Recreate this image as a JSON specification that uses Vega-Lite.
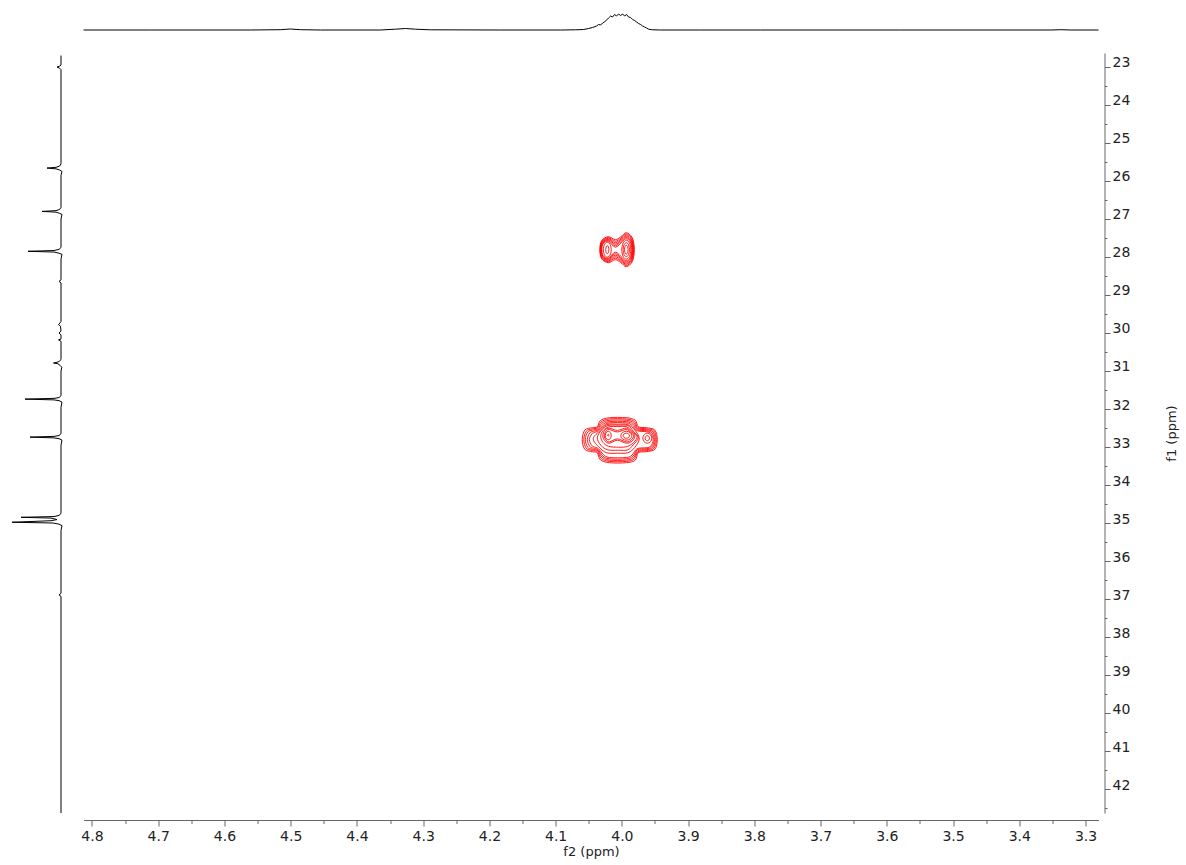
{
"$schema": "https://vega.github.io/schema/vega-lite/v6.json",
"background": "white",
"padding": 5,
"config": {"view": {"stroke": null}, "font": "DejaVu Sans"},
"datasets": {
"top": [
{"f2":4.8128,"v":0},{"f2":4.7119,"v":0},{"f2":4.5609,"v":0},{"f2":4.5156,"v":0.3},{"f2":4.5005,"v":1},{"f2":4.4853,"v":0.3},{"f2":4.4551,"v":0},{"f2":4.3645,"v":0},{"f2":4.3419,"v":0.8},{"f2":4.3268,"v":1.5},{"f2":4.3116,"v":0.8},{"f2":4.2890,"v":0.2},{"f2":4.1832,"v":0},{"f2":4.0926,"v":0},{"f2":4.0699,"v":0.2},{"f2":4.0578,"v":0.5},{"f2":4.0503,"v":1.5},{"f2":4.0442,"v":2.5},{"f2":4.0382,"v":4},{"f2":4.0352,"v":5.5},{"f2":4.0321,"v":5},{"f2":4.0291,"v":7},{"f2":4.0261,"v":8},{"f2":4.0231,"v":10},{"f2":4.0201,"v":12},{"f2":4.0170,"v":14},{"f2":4.0140,"v":13},{"f2":4.0110,"v":15.5},{"f2":4.0080,"v":14},{"f2":4.0050,"v":16},{"f2":4.0019,"v":14.5},{"f2":3.9989,"v":16},{"f2":3.9959,"v":14},{"f2":3.9929,"v":15.5},{"f2":3.9899,"v":13},{"f2":3.9868,"v":12.5},{"f2":3.9838,"v":10.5},{"f2":3.9808,"v":9.5},{"f2":3.9778,"v":8},{"f2":3.9748,"v":6.5},{"f2":3.9717,"v":5.5},{"f2":3.9687,"v":4},{"f2":3.9657,"v":3},{"f2":3.9627,"v":2},{"f2":3.9597,"v":0.8},{"f2":3.9536,"v":0.2},{"f2":3.9415,"v":0},{"f2":3.8811,"v":0},{"f2":3.7904,"v":0},{"f2":3.5790,"v":0},{"f2":3.3524,"v":0},{"f2":3.3373,"v":0.3},{"f2":3.3222,"v":0},{"f2":3.2804,"v":0}
],
"left": [
{"f1":22.70,"v":0},{"f1":22.95,"v":0},{"f1":22.98,"v":1.5},{"f1":23.00,"v":4},{"f1":23.03,"v":1.5},{"f1":23.07,"v":0},{"f1":25.55,"v":0},{"f1":25.61,"v":1.5},{"f1":25.64,"v":5},{"f1":25.66,"v":14},{"f1":25.68,"v":5},{"f1":25.71,"v":1.5},{"f1":25.75,"v":-1},{"f1":25.85,"v":0},{"f1":26.70,"v":0},{"f1":26.75,"v":1.5},{"f1":26.78,"v":5},{"f1":26.80,"v":19},{"f1":26.82,"v":5},{"f1":26.85,"v":1.5},{"f1":26.88,"v":-1},{"f1":27.00,"v":0},{"f1":27.75,"v":0},{"f1":27.80,"v":2},{"f1":27.83,"v":7},{"f1":27.85,"v":33},{"f1":27.87,"v":7},{"f1":27.90,"v":2},{"f1":27.93,"v":-1},{"f1":28.05,"v":0},{"f1":28.60,"v":0},{"f1":28.64,"v":2},{"f1":28.68,"v":0},{"f1":29.70,"v":0},{"f1":29.78,"v":2.5},{"f1":29.82,"v":0.5},{"f1":29.95,"v":0},{"f1":30.00,"v":2},{"f1":30.05,"v":0},{"f1":30.16,"v":0},{"f1":30.18,"v":2.5},{"f1":30.22,"v":0},{"f1":30.70,"v":0},{"f1":30.75,"v":2},{"f1":30.77,"v":4},{"f1":30.79,"v":7.5},{"f1":30.81,"v":3},{"f1":30.85,"v":1},{"f1":30.90,"v":-0.8},{"f1":31.00,"v":0},{"f1":31.65,"v":0},{"f1":31.70,"v":2},{"f1":31.72,"v":7},{"f1":31.74,"v":36},{"f1":31.76,"v":7},{"f1":31.78,"v":2},{"f1":31.82,"v":-1},{"f1":31.95,"v":0},{"f1":32.65,"v":0},{"f1":32.70,"v":2},{"f1":32.72,"v":7},{"f1":32.74,"v":31},{"f1":32.76,"v":7},{"f1":32.78,"v":2},{"f1":32.82,"v":-1},{"f1":32.95,"v":0},{"f1":34.75,"v":0},{"f1":34.80,"v":2},{"f1":34.83,"v":7},{"f1":34.85,"v":40},{"f1":34.87,"v":10},{"f1":34.91,"v":4},{"f1":34.94,"v":10},{"f1":34.98,"v":49},{"f1":35.00,"v":8},{"f1":35.03,"v":2},{"f1":35.07,"v":-1},{"f1":35.20,"v":0},{"f1":36.85,"v":0},{"f1":36.89,"v":2},{"f1":36.93,"v":0},{"f1":42.631,"v":0}
],
"contours": [
{"c":"u0","i":0,"x":4.0333,"y":27.808},{"c":"u0","i":1,"x":4.0305,"y":27.569},{"c":"u0","i":2,"x":4.0205,"y":27.466},{"c":"u0","i":3,"x":4.0099,"y":27.545},{"c":"u0","i":4,"x":4.0018,"y":27.472},{"c":"u0","i":5,"x":3.9933,"y":27.361},{"c":"u0","i":6,"x":3.9843,"y":27.495},{"c":"u0","i":7,"x":3.9812,"y":27.808},{"c":"u0","i":8,"x":3.9843,"y":28.121},{"c":"u0","i":9,"x":3.9933,"y":28.255},{"c":"u0","i":10,"x":4.0018,"y":28.144},{"c":"u0","i":11,"x":4.0099,"y":28.071},{"c":"u0","i":12,"x":4.0205,"y":28.150},{"c":"u0","i":13,"x":4.0305,"y":28.047},
{"c":"u1","i":0,"x":4.0327,"y":27.808},{"c":"u1","i":1,"x":4.0300,"y":27.584},{"c":"u1","i":2,"x":4.0205,"y":27.490},{"c":"u1","i":3,"x":4.0099,"y":27.584},{"c":"u1","i":4,"x":4.0012,"y":27.496},{"c":"u1","i":5,"x":3.9933,"y":27.392},{"c":"u1","i":6,"x":3.9849,"y":27.516},{"c":"u1","i":7,"x":3.9820,"y":27.808},{"c":"u1","i":8,"x":3.9849,"y":28.100},{"c":"u1","i":9,"x":3.9933,"y":28.224},{"c":"u1","i":10,"x":4.0012,"y":28.120},{"c":"u1","i":11,"x":4.0099,"y":28.032},{"c":"u1","i":12,"x":4.0205,"y":28.126},{"c":"u1","i":13,"x":4.0300,"y":28.032},
{"c":"u2","i":0,"x":4.0321,"y":27.808},{"c":"u2","i":1,"x":4.0296,"y":27.603},{"c":"u2","i":2,"x":4.0205,"y":27.513},{"c":"u2","i":3,"x":4.0099,"y":27.624},{"c":"u2","i":4,"x":4.0007,"y":27.520},{"c":"u2","i":5,"x":3.9933,"y":27.424},{"c":"u2","i":6,"x":3.9854,"y":27.540},{"c":"u2","i":7,"x":3.9827,"y":27.808},{"c":"u2","i":8,"x":3.9854,"y":28.076},{"c":"u2","i":9,"x":3.9933,"y":28.192},{"c":"u2","i":10,"x":4.0007,"y":28.096},{"c":"u2","i":11,"x":4.0099,"y":27.992},{"c":"u2","i":12,"x":4.0205,"y":28.103},{"c":"u2","i":13,"x":4.0296,"y":28.013},
{"c":"u3","i":0,"x":4.0315,"y":27.808},{"c":"u3","i":1,"x":4.0291,"y":27.619},{"c":"u3","i":2,"x":4.0205,"y":27.537},{"c":"u3","i":3,"x":4.0099,"y":27.663},{"c":"u3","i":4,"x":4.0002,"y":27.544},{"c":"u3","i":5,"x":3.9933,"y":27.455},{"c":"u3","i":6,"x":3.9859,"y":27.561},{"c":"u3","i":7,"x":3.9835,"y":27.808},{"c":"u3","i":8,"x":3.9859,"y":28.055},{"c":"u3","i":9,"x":3.9933,"y":28.161},{"c":"u3","i":10,"x":4.0002,"y":28.072},{"c":"u3","i":11,"x":4.0099,"y":27.953},{"c":"u3","i":12,"x":4.0205,"y":28.079},{"c":"u3","i":13,"x":4.0291,"y":27.997},
{"c":"u4","i":0,"x":4.0309,"y":27.808},{"c":"u4","i":1,"x":4.0286,"y":27.634},{"c":"u4","i":2,"x":4.0205,"y":27.561},{"c":"u4","i":3,"x":4.0099,"y":27.703},{"c":"u4","i":4,"x":3.9997,"y":27.567},{"c":"u4","i":5,"x":3.9933,"y":27.487},{"c":"u4","i":6,"x":3.9865,"y":27.584},{"c":"u4","i":7,"x":3.9843,"y":27.808},{"c":"u4","i":8,"x":3.9865,"y":28.032},{"c":"u4","i":9,"x":3.9933,"y":28.129},{"c":"u4","i":10,"x":3.9997,"y":28.049},{"c":"u4","i":11,"x":4.0099,"y":27.913},{"c":"u4","i":12,"x":4.0205,"y":28.055},{"c":"u4","i":13,"x":4.0286,"y":27.982},
{"c":"u5","i":0,"x":4.0303,"y":27.808},{"c":"u5","i":1,"x":4.0282,"y":27.650},{"c":"u5","i":2,"x":4.0205,"y":27.584},{"c":"u5","i":3,"x":4.0099,"y":27.742},{"c":"u5","i":4,"x":3.9991,"y":27.591},{"c":"u5","i":5,"x":3.9933,"y":27.519},{"c":"u5","i":6,"x":3.9871,"y":27.605},{"c":"u5","i":7,"x":3.9850,"y":27.808},{"c":"u5","i":8,"x":3.9871,"y":28.011},{"c":"u5","i":9,"x":3.9933,"y":28.097},{"c":"u5","i":10,"x":3.9991,"y":28.025},{"c":"u5","i":11,"x":4.0099,"y":27.874},{"c":"u5","i":12,"x":4.0205,"y":28.032},{"c":"u5","i":13,"x":4.0282,"y":27.966},
{"c":"uL1","i":0,"x":4.0160,"y":27.808},{"c":"uL1","i":1,"x":4.0178,"y":27.946},{"c":"uL1","i":2,"x":4.0220,"y":28.005},{"c":"uL1","i":3,"x":4.0262,"y":27.946},{"c":"uL1","i":4,"x":4.0280,"y":27.808},{"c":"uL1","i":5,"x":4.0262,"y":27.670},{"c":"uL1","i":6,"x":4.0220,"y":27.611},{"c":"uL1","i":7,"x":4.0178,"y":27.670},
{"c":"uL2","i":0,"x":4.0196,"y":27.808},{"c":"uL2","i":1,"x":4.0203,"y":27.882},{"c":"uL2","i":2,"x":4.0220,"y":27.913},{"c":"uL2","i":3,"x":4.0237,"y":27.882},{"c":"uL2","i":4,"x":4.0244,"y":27.808},{"c":"uL2","i":5,"x":4.0237,"y":27.734},{"c":"uL2","i":6,"x":4.0220,"y":27.703},{"c":"uL2","i":7,"x":4.0203,"y":27.734},
{"c":"uR1","i":0,"x":3.9865,"y":27.808},{"c":"uR1","i":1,"x":3.9885,"y":27.983},{"c":"uR1","i":2,"x":3.9933,"y":28.058},{"c":"uR1","i":3,"x":3.9981,"y":27.983},{"c":"uR1","i":4,"x":4.0001,"y":27.808},{"c":"uR1","i":5,"x":3.9981,"y":27.633},{"c":"uR1","i":6,"x":3.9933,"y":27.558},{"c":"uR1","i":7,"x":3.9885,"y":27.633},
{"c":"uR2","i":0,"x":3.9885,"y":27.808},{"c":"uR2","i":1,"x":3.9899,"y":27.937},{"c":"uR2","i":2,"x":3.9933,"y":27.992},{"c":"uR2","i":3,"x":3.9967,"y":27.937},{"c":"uR2","i":4,"x":3.9981,"y":27.808},{"c":"uR2","i":5,"x":3.9967,"y":27.679},{"c":"uR2","i":6,"x":3.9933,"y":27.624},{"c":"uR2","i":7,"x":3.9899,"y":27.679},
{"c":"uR3","i":0,"x":3.9906,"y":27.808},{"c":"uR3","i":1,"x":3.9914,"y":27.891},{"c":"uR3","i":2,"x":3.9933,"y":27.926},{"c":"uR3","i":3,"x":3.9952,"y":27.891},{"c":"uR3","i":4,"x":3.9960,"y":27.808},{"c":"uR3","i":5,"x":3.9952,"y":27.725},{"c":"uR3","i":6,"x":3.9933,"y":27.690},{"c":"uR3","i":7,"x":3.9914,"y":27.725},
{"c":"m0","i":0,"x":4.0598,"y":32.808},{"c":"m0","i":1,"x":4.0560,"y":32.555},{"c":"m0","i":2,"x":4.0447,"y":32.492},{"c":"m0","i":3,"x":4.0371,"y":32.466},{"c":"m0","i":4,"x":4.0326,"y":32.308},{"c":"m0","i":5,"x":4.0190,"y":32.229},{"c":"m0","i":6,"x":3.9933,"y":32.229},{"c":"m0","i":7,"x":3.9798,"y":32.295},{"c":"m0","i":8,"x":3.9752,"y":32.466},{"c":"m0","i":9,"x":3.9631,"y":32.492},{"c":"m0","i":10,"x":3.9503,"y":32.555},{"c":"m0","i":11,"x":3.9465,"y":32.808},{"c":"m0","i":12,"x":3.9503,"y":33.061},{"c":"m0","i":13,"x":3.9631,"y":33.124},{"c":"m0","i":14,"x":3.9752,"y":33.150},{"c":"m0","i":15,"x":3.9798,"y":33.348},{"c":"m0","i":16,"x":3.9933,"y":33.413},{"c":"m0","i":17,"x":4.0190,"y":33.413},{"c":"m0","i":18,"x":4.0326,"y":33.334},{"c":"m0","i":19,"x":4.0371,"y":33.150},{"c":"m0","i":20,"x":4.0447,"y":33.124},{"c":"m0","i":21,"x":4.0560,"y":33.061},
{"c":"m1","i":0,"x":4.0575,"y":32.808},{"c":"m1","i":1,"x":4.0537,"y":32.581},{"c":"m1","i":2,"x":4.0447,"y":32.524},{"c":"m1","i":3,"x":4.0367,"y":32.492},{"c":"m1","i":4,"x":4.0314,"y":32.342},{"c":"m1","i":5,"x":4.0190,"y":32.263},{"c":"m1","i":6,"x":3.9933,"y":32.263},{"c":"m1","i":7,"x":3.9810,"y":32.329},{"c":"m1","i":8,"x":3.9757,"y":32.492},{"c":"m1","i":9,"x":3.9631,"y":32.519},{"c":"m1","i":10,"x":3.9518,"y":32.576},{"c":"m1","i":11,"x":3.9480,"y":32.808},{"c":"m1","i":12,"x":3.9518,"y":33.040},{"c":"m1","i":13,"x":3.9631,"y":33.097},{"c":"m1","i":14,"x":3.9757,"y":33.124},{"c":"m1","i":15,"x":3.9810,"y":33.313},{"c":"m1","i":16,"x":3.9933,"y":33.379},{"c":"m1","i":17,"x":4.0190,"y":33.379},{"c":"m1","i":18,"x":4.0314,"y":33.300},{"c":"m1","i":19,"x":4.0367,"y":33.124},{"c":"m1","i":20,"x":4.0447,"y":33.092},{"c":"m1","i":21,"x":4.0537,"y":33.035},
{"c":"m2","i":0,"x":4.0553,"y":32.808},{"c":"m2","i":1,"x":4.0515,"y":32.606},{"c":"m2","i":2,"x":4.0447,"y":32.555},{"c":"m2","i":3,"x":4.0362,"y":32.519},{"c":"m2","i":4,"x":4.0302,"y":32.376},{"c":"m2","i":5,"x":4.0190,"y":32.297},{"c":"m2","i":6,"x":3.9933,"y":32.297},{"c":"m2","i":7,"x":3.9822,"y":32.363},{"c":"m2","i":8,"x":3.9761,"y":32.519},{"c":"m2","i":9,"x":3.9631,"y":32.545},{"c":"m2","i":10,"x":3.9533,"y":32.597},{"c":"m2","i":11,"x":3.9496,"y":32.808},{"c":"m2","i":12,"x":3.9533,"y":33.019},{"c":"m2","i":13,"x":3.9631,"y":33.071},{"c":"m2","i":14,"x":3.9761,"y":33.097},{"c":"m2","i":15,"x":3.9822,"y":33.279},{"c":"m2","i":16,"x":3.9933,"y":33.345},{"c":"m2","i":17,"x":4.0190,"y":33.345},{"c":"m2","i":18,"x":4.0302,"y":33.266},{"c":"m2","i":19,"x":4.0362,"y":33.097},{"c":"m2","i":20,"x":4.0447,"y":33.061},{"c":"m2","i":21,"x":4.0515,"y":33.010},
{"c":"m3","i":0,"x":4.0522,"y":32.808},{"c":"m3","i":1,"x":4.0485,"y":32.631},{"c":"m3","i":2,"x":4.0432,"y":32.587},{"c":"m3","i":3,"x":4.0358,"y":32.545},{"c":"m3","i":4,"x":4.0290,"y":32.411},{"c":"m3","i":5,"x":4.0190,"y":32.332},{"c":"m3","i":6,"x":3.9933,"y":32.332},{"c":"m3","i":7,"x":3.9834,"y":32.397},{"c":"m3","i":8,"x":3.9766,"y":32.545},{"c":"m3","i":9,"x":3.9631,"y":32.571},{"c":"m3","i":10,"x":3.9548,"y":32.619},{"c":"m3","i":11,"x":3.9511,"y":32.808},{"c":"m3","i":12,"x":3.9548,"y":32.998},{"c":"m3","i":13,"x":3.9631,"y":33.045},{"c":"m3","i":14,"x":3.9766,"y":33.071},{"c":"m3","i":15,"x":3.9834,"y":33.245},{"c":"m3","i":16,"x":3.9933,"y":33.311},{"c":"m3","i":17,"x":4.0190,"y":33.311},{"c":"m3","i":18,"x":4.0290,"y":33.232},{"c":"m3","i":19,"x":4.0358,"y":33.071},{"c":"m3","i":20,"x":4.0432,"y":33.029},{"c":"m3","i":21,"x":4.0485,"y":32.985},
{"c":"m4","i":0,"x":4.0492,"y":32.808},{"c":"m4","i":1,"x":4.0454,"y":32.656},{"c":"m4","i":2,"x":4.0417,"y":32.619},{"c":"m4","i":3,"x":4.0353,"y":32.571},{"c":"m4","i":4,"x":4.0278,"y":32.445},{"c":"m4","i":5,"x":4.0190,"y":32.366},{"c":"m4","i":6,"x":3.9933,"y":32.366},{"c":"m4","i":7,"x":3.9846,"y":32.432},{"c":"m4","i":8,"x":3.9770,"y":32.571},{"c":"m4","i":9,"x":3.9631,"y":32.597},{"c":"m4","i":10,"x":3.9563,"y":32.640},{"c":"m4","i":11,"x":3.9526,"y":32.808},{"c":"m4","i":12,"x":3.9563,"y":32.976},{"c":"m4","i":13,"x":3.9631,"y":33.019},{"c":"m4","i":14,"x":3.9770,"y":33.045},{"c":"m4","i":15,"x":3.9846,"y":33.211},{"c":"m4","i":16,"x":3.9933,"y":33.276},{"c":"m4","i":17,"x":4.0190,"y":33.276},{"c":"m4","i":18,"x":4.0278,"y":33.198},{"c":"m4","i":19,"x":4.0353,"y":33.045},{"c":"m4","i":20,"x":4.0417,"y":32.998},{"c":"m4","i":21,"x":4.0454,"y":32.960},
{"c":"c0","i":0,"x":3.9737,"y":32.782},{"c":"c0","i":1,"x":3.9805,"y":33.011},{"c":"c0","i":2,"x":3.9911,"y":33.152},{"c":"c0","i":3,"x":4.0062,"y":33.163},{"c":"c0","i":4,"x":4.0228,"y":33.152},{"c":"c0","i":5,"x":4.0340,"y":33.011},{"c":"c0","i":6,"x":4.0432,"y":32.782},{"c":"c0","i":7,"x":4.0326,"y":32.566},{"c":"c0","i":8,"x":4.0228,"y":32.411},{"c":"c0","i":9,"x":4.0062,"y":32.400},{"c":"c0","i":10,"x":3.9911,"y":32.411},{"c":"c0","i":11,"x":3.9805,"y":32.553},
{"c":"c1","i":0,"x":3.9752,"y":32.755},{"c":"c1","i":1,"x":3.9828,"y":32.940},{"c":"c1","i":2,"x":3.9911,"y":33.075},{"c":"c1","i":3,"x":4.0054,"y":33.084},{"c":"c1","i":4,"x":4.0212,"y":33.075},{"c":"c1","i":5,"x":4.0318,"y":32.953},{"c":"c1","i":6,"x":4.0371,"y":32.755},{"c":"c1","i":7,"x":4.0308,"y":32.558},{"c":"c1","i":8,"x":4.0212,"y":32.436},{"c":"c1","i":9,"x":4.0054,"y":32.426},{"c":"c1","i":10,"x":3.9911,"y":32.436},{"c":"c1","i":11,"x":3.9828,"y":32.584},
{"c":"c2","i":0,"x":3.9770,"y":32.729},{"c":"c2","i":1,"x":3.9823,"y":32.882},{"c":"c2","i":2,"x":3.9918,"y":32.987},{"c":"c2","i":3,"x":4.0047,"y":33.005},{"c":"c2","i":4,"x":4.0198,"y":32.984},{"c":"c2","i":5,"x":4.0288,"y":32.874},{"c":"c2","i":6,"x":4.0319,"y":32.716},{"c":"c2","i":7,"x":4.0285,"y":32.571},{"c":"c2","i":8,"x":4.0198,"y":32.471},{"c":"c2","i":9,"x":4.0047,"y":32.461},{"c":"c2","i":10,"x":3.9926,"y":32.469},{"c":"c2","i":11,"x":3.9843,"y":32.597},
{"c":"p0","i":0,"x":4.0288,"y":32.703},{"c":"p0","i":1,"x":4.0258,"y":32.558},{"c":"p0","i":2,"x":4.0190,"y":32.505},{"c":"p0","i":3,"x":4.0069,"y":32.563},{"c":"p0","i":4,"x":3.9933,"y":32.503},{"c":"p0","i":5,"x":3.9865,"y":32.590},{"c":"p0","i":6,"x":3.9804,"y":32.703},{"c":"p0","i":7,"x":3.9843,"y":32.840},{"c":"p0","i":8,"x":3.9933,"y":32.900},{"c":"p0","i":9,"x":4.0069,"y":32.821},{"c":"p0","i":10,"x":4.0190,"y":32.900},{"c":"p0","i":11,"x":4.0258,"y":32.834},
{"c":"p1","i":0,"x":4.0266,"y":32.703},{"c":"p1","i":1,"x":4.0240,"y":32.579},{"c":"p1","i":2,"x":4.0190,"y":32.540},{"c":"p1","i":3,"x":4.0069,"y":32.603},{"c":"p1","i":4,"x":3.9933,"y":32.537},{"c":"p1","i":5,"x":3.9873,"y":32.611},{"c":"p1","i":6,"x":3.9823,"y":32.703},{"c":"p1","i":7,"x":3.9858,"y":32.816},{"c":"p1","i":8,"x":3.9933,"y":32.866},{"c":"p1","i":9,"x":4.0069,"y":32.787},{"c":"p1","i":10,"x":4.0190,"y":32.866},{"c":"p1","i":11,"x":4.0240,"y":32.816},
{"c":"lr","i":0,"x":4.0160,"y":32.698},{"c":"lr","i":1,"x":4.0174,"y":32.775},{"c":"lr","i":2,"x":4.0205,"y":32.808},{"c":"lr","i":3,"x":4.0237,"y":32.775},{"c":"lr","i":4,"x":4.0251,"y":32.698},{"c":"lr","i":5,"x":4.0237,"y":32.620},{"c":"lr","i":6,"x":4.0205,"y":32.587},{"c":"lr","i":7,"x":4.0174,"y":32.620},
{"c":"ld","i":0,"x":4.0193,"y":32.690},{"c":"ld","i":1,"x":4.0205,"y":32.716},{"c":"ld","i":2,"x":4.0217,"y":32.690},{"c":"ld","i":3,"x":4.0205,"y":32.664},
{"c":"ra","i":0,"x":3.9850,"y":32.703},{"c":"ra","i":1,"x":3.9875,"y":32.786},{"c":"ra","i":2,"x":3.9933,"y":32.821},{"c":"ra","i":3,"x":3.9991,"y":32.786},{"c":"ra","i":4,"x":4.0016,"y":32.703},{"c":"ra","i":5,"x":3.9991,"y":32.620},{"c":"ra","i":6,"x":3.9933,"y":32.585},{"c":"ra","i":7,"x":3.9875,"y":32.620},
{"c":"rb","i":0,"x":3.9885,"y":32.703},{"c":"rb","i":1,"x":3.9899,"y":32.751},{"c":"rb","i":2,"x":3.9933,"y":32.771},{"c":"rb","i":3,"x":3.9967,"y":32.751},{"c":"rb","i":4,"x":3.9981,"y":32.703},{"c":"rb","i":5,"x":3.9967,"y":32.655},{"c":"rb","i":6,"x":3.9933,"y":32.635},{"c":"rb","i":7,"x":3.9899,"y":32.655},
{"c":"sa","i":0,"x":3.9548,"y":32.769},{"c":"sa","i":1,"x":3.9568,"y":32.861},{"c":"sa","i":2,"x":3.9616,"y":32.901},{"c":"sa","i":3,"x":3.9664,"y":32.861},{"c":"sa","i":4,"x":3.9684,"y":32.769},{"c":"sa","i":5,"x":3.9664,"y":32.677},{"c":"sa","i":6,"x":3.9616,"y":32.637},{"c":"sa","i":7,"x":3.9568,"y":32.677},
{"c":"sb","i":0,"x":3.9583,"y":32.769},{"c":"sb","i":1,"x":3.9593,"y":32.815},{"c":"sb","i":2,"x":3.9616,"y":32.835},{"c":"sb","i":3,"x":3.9639,"y":32.815},{"c":"sb","i":4,"x":3.9649,"y":32.769},{"c":"sb","i":5,"x":3.9639,"y":32.723},{"c":"sb","i":6,"x":3.9616,"y":32.703},{"c":"sb","i":7,"x":3.9593,"y":32.723}
]
},
"columns": 2,
"align": "each",
"spacing": {"row": 8, "column": 5.5},
"concat": [
{
"width": 70, "height": 40,
"data": {"values": [{"a": 1}]},
"mark": {"type": "point", "opacity": 0},
"encoding": {}
},
{
"width": 1015, "height": 40,
"data": {"name": "top"},
"mark": {"type": "line", "color": "#000000", "strokeWidth": 1},
"encoding": {
"x": {"field": "f2", "type": "quantitative", "scale": {"domain": [3.2804, 4.8128], "reverse": true, "nice": false, "zero": false}, "axis": null},
"y": {"field": "v", "type": "quantitative", "scale": {"domain": [-15, 25], "nice": false, "zero": false}, "axis": null}
}
},
{
"width": 70, "height": 760,
"data": {"name": "left"},
"mark": {"type": "line", "color": "#000000", "strokeWidth": 1},
"encoding": {
"y": {"field": "f1", "type": "quantitative", "scale": {"domain": [22.632, 42.631], "reverse": true, "nice": false, "zero": false}, "axis": null},
"x": {"field": "v", "type": "quantitative", "scale": {"domain": [-14, 56], "reverse": true, "nice": false, "zero": false}, "axis": null},
"order": {"field": "f1", "type": "quantitative"}
}
},
{
"width": 1015, "height": 760,
"data": {"name": "contours"},
"layer": [
{
"mark": {"type": "line", "color": "#ff0000", "strokeWidth": 0.9, "interpolate": "cardinal-closed"},
"encoding": {
"x": {"field": "x", "type": "quantitative", "scale": {"domain": [3.2804, 4.8128], "reverse": true, "nice": false, "zero": false},
 "axis": {"orient": "bottom", "offset": 7, "values": [3.3,3.4,3.5,3.6,3.7,3.8,3.9,4.0,4.1,4.2,4.3,4.4,4.5,4.6,4.7,4.8], "format": ".1f", "grid": false, "tickSize": 6, "labelPadding": 3, "labelFontSize": 14, "labelColor": "#222222", "labelFlush": false, "labelOverlap": false, "domainColor": "#666666", "tickColor": "#666666", "title": "f2 (ppm)", "titleFontSize": 13, "titleFontWeight": "normal", "titleColor": "#222222", "titlePadding": 2}},
"y": {"field": "y", "type": "quantitative", "scale": {"domain": [22.632, 42.631], "reverse": true, "nice": false, "zero": false},
 "axis": {"orient": "right", "offset": 6, "values": [23,24,25,26,27,28,29,30,31,32,33,34,35,36,37,38,39,40,41,42], "format": "d", "grid": false, "tickSize": 5.5, "labelPadding": 2, "labelBaseline": "alphabetic", "labelFontSize": 14, "labelColor": "#222222", "labelFlush": false, "labelOverlap": false, "domainColor": "#666666", "tickColor": "#666666", "title": "f1 (ppm)", "titleAngle": 270, "titleFontSize": 13, "titleFontWeight": "normal", "titleColor": "#222222", "titlePadding": 49}},
"detail": {"field": "c", "type": "nominal"},
"order": {"field": "i", "type": "quantitative"}
}
},
{
"mark": {"type": "point", "opacity": 0},
"encoding": {
"x": {"field": "x", "type": "quantitative", "axis": {"orient": "bottom", "offset": 7, "values": [3.35,3.45,3.55,3.65,3.75,3.85,3.95,4.05,4.15,4.25,4.35,4.45,4.55,4.65,4.75], "grid": false, "domain": false, "labels": false, "tickSize": 3.5, "tickColor": "#666666", "title": null}},
"y": {"field": "y", "type": "quantitative", "axis": {"orient": "right", "offset": 6, "values": [23.5,24.5,25.5,26.5,27.5,28.5,29.5,30.5,31.5,32.5,33.5,34.5,35.5,36.5,37.5,38.5,39.5,40.5,41.5,42.5], "grid": false, "domain": false, "labels": false, "tickSize": 2.5, "tickColor": "#666666", "title": null}}
}
}
],
"resolve": {"axis": {"x": "independent", "y": "independent"}}
}
]
}
